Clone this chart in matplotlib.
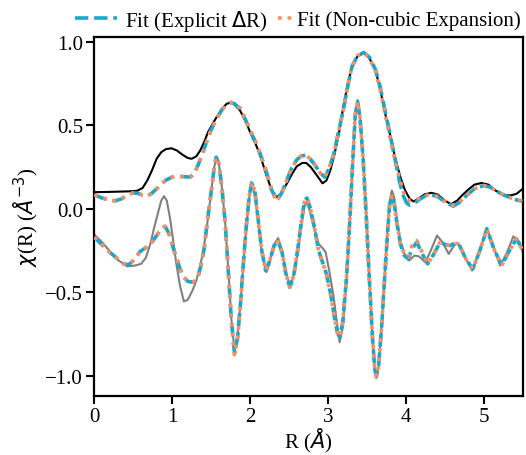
import matplotlib
matplotlib.use("Agg")
import matplotlib.pyplot as plt

plt.rcParams['font.family'] = ['Liberation Serif', 'DejaVu Serif']
plt.rcParams['mathtext.fontset'] = 'dejavusans'

# |chi(R)| data
mag_x = [0.00, 0.15, 0.30, 0.45, 0.55, 0.62, 0.68, 0.74, 0.80, 0.86, 0.92, 0.99, 1.06, 1.13, 1.20, 1.25,
         1.31, 1.36, 1.41, 1.46, 1.52, 1.57, 1.64, 1.70, 1.75, 1.80, 1.87, 1.94, 2.00, 2.07, 2.13, 2.21,
         2.28, 2.34, 2.40, 2.47, 2.54, 2.60, 2.67, 2.72, 2.78, 2.85, 2.93, 2.98, 3.03, 3.08, 3.14, 3.20,
         3.26, 3.31, 3.38, 3.46, 3.53, 3.61, 3.67, 3.73, 3.80, 3.86, 3.93, 3.99, 4.05, 4.10, 4.16, 4.24,
         4.33, 4.41, 4.50, 4.58, 4.66, 4.72, 4.80, 4.88, 4.97, 5.06, 5.15, 5.24, 5.34, 5.42, 5.50]
mag_y = [0.100, 0.101, 0.103, 0.105, 0.108, 0.125, 0.17, 0.23, 0.30, 0.34, 0.358, 0.363, 0.35, 0.325, 0.305, 0.30,
         0.315, 0.35, 0.40, 0.46, 0.51, 0.55, 0.60, 0.63, 0.636, 0.625, 0.59, 0.53, 0.46, 0.39, 0.32, 0.20,
         0.11, 0.07, 0.09, 0.15, 0.21, 0.255, 0.275, 0.275, 0.25, 0.205, 0.153, 0.17, 0.23, 0.32, 0.45, 0.62,
         0.76, 0.855, 0.915, 0.935, 0.905, 0.83, 0.72, 0.58, 0.44, 0.31, 0.19, 0.11, 0.06, 0.044, 0.06, 0.087,
         0.096, 0.085, 0.05, 0.028, 0.05, 0.08, 0.115, 0.145, 0.155, 0.145, 0.11, 0.085, 0.08, 0.09, 0.12]

# Re[chi(R)] data
re_x = [0.00, 0.10, 0.20, 0.30, 0.42, 0.52, 0.60, 0.66, 0.72, 0.77, 0.82, 0.86, 0.895, 0.93, 0.97, 1.01,
        1.05, 1.10, 1.15, 1.20, 1.26, 1.31, 1.36, 1.40, 1.45, 1.50, 1.54, 1.57, 1.60, 1.64, 1.68, 1.72,
        1.76, 1.80, 1.84, 1.88, 1.91, 1.95, 1.99, 2.02, 2.06, 2.10, 2.15, 2.21, 2.25, 2.30, 2.36, 2.41,
        2.46, 2.51, 2.56, 2.61, 2.66, 2.70, 2.73, 2.77, 2.83, 2.88, 2.93, 2.97, 3.02, 3.07, 3.12, 3.15,
        3.19, 3.24, 3.28, 3.32, 3.35, 3.38, 3.41, 3.45, 3.49, 3.53, 3.57, 3.60, 3.62, 3.65, 3.69, 3.72,
        3.76, 3.79, 3.82, 3.85, 3.89, 3.93, 3.98, 4.04, 4.11, 4.17, 4.25, 4.32, 4.40, 4.47, 4.55, 4.62,
        4.67, 4.76, 4.85, 4.95, 5.04, 5.12, 5.21, 5.30, 5.38, 5.46, 5.50]
re_y = [-0.155, -0.20, -0.255, -0.305, -0.345, -0.34, -0.33, -0.295, -0.21, -0.11, -0.02, 0.05, 0.076, 0.05, -0.05, -0.18,
        -0.32, -0.46, -0.555, -0.545, -0.49, -0.43, -0.34, -0.25, -0.09, 0.10, 0.25, 0.31, 0.27, 0.12, -0.08, -0.36,
        -0.66, -0.85, -0.76, -0.55, -0.36, -0.12, 0.07, 0.14, 0.09, -0.06, -0.26, -0.38, -0.33, -0.22, -0.175, -0.25,
        -0.38, -0.46, -0.40, -0.27, -0.10, 0.02, 0.04, -0.02, -0.13, -0.21, -0.235, -0.26, -0.38, -0.52, -0.70, -0.80,
        -0.71, -0.42, -0.08, 0.30, 0.57, 0.65, 0.56, 0.32, -0.02, -0.40, -0.75, -0.96, -1.015, -0.95, -0.70, -0.46,
        -0.16, 0.04, 0.11, 0.07, -0.08, -0.19, -0.27, -0.31, -0.28, -0.285, -0.32, -0.25, -0.16, -0.20, -0.27, -0.22,
        -0.205, -0.29, -0.37, -0.25, -0.115, -0.22, -0.34, -0.26, -0.165, -0.20, -0.26]

# Fit (Explicit dR): magnitude
fit1_mag_x = [0.00, 0.10, 0.20, 0.27, 0.35, 0.43, 0.50, 0.56, 0.62, 0.67, 0.73, 0.80, 0.86, 0.93, 1.00, 1.07,
              1.15, 1.23, 1.28, 1.33, 1.38, 1.44, 1.50, 1.57, 1.64, 1.70, 1.75, 1.80, 1.87, 1.94, 2.00, 2.07,
              2.13, 2.21, 2.28, 2.34, 2.40, 2.47, 2.53, 2.60, 2.66, 2.71, 2.77, 2.83, 2.90, 2.96, 3.01, 3.07,
              3.13, 3.20, 3.26, 3.31, 3.38, 3.46, 3.53, 3.61, 3.67, 3.73, 3.80, 3.86, 3.92, 3.97, 4.01, 4.05,
              4.10, 4.17, 4.25, 4.33, 4.42, 4.52, 4.61, 4.69, 4.78, 4.88, 5.00, 5.08, 5.17, 5.25, 5.35, 5.43, 5.50]
fit1_mag_y = [0.085, 0.065, 0.052, 0.048, 0.06, 0.085, 0.096, 0.093, 0.082, 0.076, 0.09, 0.12, 0.15, 0.175, 0.19, 0.195,
              0.193, 0.19, 0.21, 0.26, 0.32, 0.40, 0.475, 0.54, 0.595, 0.628, 0.638, 0.63, 0.60, 0.535, 0.47, 0.40,
              0.33, 0.22, 0.11, 0.054, 0.09, 0.17, 0.24, 0.295, 0.318, 0.32, 0.30, 0.265, 0.215, 0.19, 0.24, 0.32,
              0.45, 0.60, 0.75, 0.855, 0.918, 0.937, 0.91, 0.835, 0.73, 0.595, 0.44, 0.30, 0.16, 0.075, 0.035, 0.022,
              0.03, 0.055, 0.078, 0.084, 0.07, 0.035, 0.016, 0.04, 0.08, 0.12, 0.14, 0.13, 0.105, 0.084, 0.065, 0.052, 0.046]

# Fit (Non-cubic Expansion): magnitude
fit2_mag_x = fit1_mag_x
fit2_mag_y = [0.085, 0.066, 0.053, 0.049, 0.06, 0.085, 0.096, 0.093, 0.082, 0.077, 0.09, 0.12, 0.15, 0.175, 0.19, 0.195,
              0.193, 0.19, 0.21, 0.26, 0.32, 0.40, 0.475, 0.54, 0.595, 0.628, 0.638, 0.632, 0.605, 0.54, 0.475, 0.405,
              0.33, 0.22, 0.105, 0.045, 0.085, 0.17, 0.24, 0.295, 0.32, 0.325, 0.30, 0.265, 0.215, 0.19, 0.24, 0.32,
              0.45, 0.60, 0.75, 0.855, 0.918, 0.937, 0.905, 0.825, 0.715, 0.575, 0.42, 0.29, 0.18, 0.10, 0.06, 0.05,
              0.05, 0.062, 0.08, 0.086, 0.072, 0.038, 0.02, 0.04, 0.08, 0.12, 0.14, 0.13, 0.105, 0.084, 0.065, 0.052, 0.046]

# Fit (Explicit dR): real part
fit1_re_x = [0.00, 0.10, 0.20, 0.30, 0.38, 0.44, 0.50, 0.59, 0.67, 0.74, 0.80, 0.86, 0.91, 0.96, 1.01, 1.06,
             1.10, 1.15, 1.20, 1.27, 1.33, 1.37, 1.41, 1.45, 1.50, 1.54, 1.565, 1.60, 1.64, 1.68, 1.72, 1.76,
             1.80, 1.84, 1.88, 1.91, 1.95, 1.99, 2.02, 2.06, 2.10, 2.15, 2.20, 2.25, 2.31, 2.36, 2.41, 2.46,
             2.51, 2.56, 2.61, 2.66, 2.70, 2.73, 2.77, 2.83, 2.88, 2.93, 2.98, 3.03, 3.08, 3.12, 3.15, 3.19,
             3.24, 3.28, 3.32, 3.35, 3.38, 3.41, 3.45, 3.49, 3.53, 3.57, 3.60, 3.62, 3.65, 3.69, 3.72, 3.76,
             3.79, 3.82, 3.85, 3.89, 3.93, 3.98, 4.03, 4.08, 4.14, 4.20, 4.28, 4.36, 4.44, 4.51, 4.57, 4.63,
             4.68, 4.77, 4.86, 4.95, 5.04, 5.13, 5.23, 5.33, 5.42, 5.50]
fit1_re_y = [-0.17, -0.215, -0.26, -0.30, -0.33, -0.335, -0.31, -0.255, -0.23, -0.20, -0.16, -0.12, -0.105, -0.15, -0.23, -0.30,
             -0.36, -0.41, -0.435, -0.44, -0.41, -0.34, -0.24, -0.08, 0.10, 0.25, 0.31, 0.27, 0.12, -0.08, -0.37, -0.67,
             -0.865, -0.77, -0.55, -0.35, -0.11, 0.08, 0.155, 0.11, -0.05, -0.25, -0.37, -0.31, -0.22, -0.195, -0.26, -0.39,
             -0.47, -0.40, -0.25, -0.07, 0.05, 0.065, 0.01, -0.12, -0.25, -0.32, -0.39, -0.50, -0.64, -0.74, -0.77, -0.68,
             -0.40, -0.07, 0.30, 0.56, 0.645, 0.55, 0.31, -0.03, -0.41, -0.76, -0.96, -1.005, -0.94, -0.70, -0.47, -0.18,
             0.02, 0.075, 0.03, -0.10, -0.21, -0.28, -0.30, -0.24, -0.20, -0.26, -0.33, -0.27, -0.20, -0.215, -0.22, -0.205,
             -0.21, -0.30, -0.36, -0.25, -0.12, -0.24, -0.34, -0.25, -0.18, -0.25]

# Fit (Non-cubic Expansion): real part
fit2_re_x = fit1_re_x
fit2_re_y = [-0.17, -0.215, -0.26, -0.30, -0.33, -0.335, -0.31, -0.255, -0.23, -0.20, -0.16, -0.12, -0.105, -0.15, -0.23, -0.30,
             -0.36, -0.41, -0.435, -0.44, -0.41, -0.34, -0.24, -0.08, 0.10, 0.25, 0.31, 0.27, 0.12, -0.08, -0.37, -0.68,
             -0.875, -0.78, -0.55, -0.35, -0.11, 0.08, 0.16, 0.11, -0.05, -0.25, -0.37, -0.31, -0.22, -0.195, -0.26, -0.39,
             -0.47, -0.40, -0.25, -0.07, 0.05, 0.065, 0.01, -0.12, -0.25, -0.32, -0.39, -0.50, -0.64, -0.74, -0.77, -0.68,
             -0.40, -0.07, 0.30, 0.56, 0.645, 0.55, 0.31, -0.03, -0.41, -0.76, -0.96, -1.005, -0.94, -0.70, -0.47, -0.18,
             0.02, 0.075, 0.03, -0.10, -0.21, -0.27, -0.29, -0.22, -0.19, -0.25, -0.33, -0.27, -0.20, -0.215, -0.22, -0.205,
             -0.21, -0.30, -0.36, -0.25, -0.12, -0.24, -0.34, -0.25, -0.18, -0.25]

legend_labels = ['Fit (Explicit $\\Delta$R)', 'Fit (Non-cubic Expansion)']
x_ticks = [0, 1, 2, 3, 4, 5]
y_ticks = [-1.0, -0.5, 0.0, 0.5, 1.0]

CYAN = '#17a9c9'
ORANGE = '#fc8d62'
FS = 15

W, H = 526, 456
fig = plt.figure(figsize=(W / 100, H / 100), dpi=100)
ax = fig.add_axes([94.3 / W, (H - 396.7) / H, (522.7 - 94.3) / W, (396.7 - 38) / H])

ax.plot(mag_x, mag_y, color='black', lw=1.5, zorder=2)
ax.plot(re_x, re_y, color='gray', lw=1.5, zorder=2)
l1, = ax.plot(fit1_mag_x, fit1_mag_y, color=CYAN, lw=2.6, ls='--', zorder=3)
ax.plot(fit1_re_x, fit1_re_y, color=CYAN, lw=2.6, ls='--', zorder=3)
l2, = ax.plot(fit2_mag_x, fit2_mag_y, color=ORANGE, lw=2.6, ls=':', zorder=4)
ax.plot(fit2_re_x, fit2_re_y, color=ORANGE, lw=2.6, ls=':', zorder=4)

ax.set_xlim(0, 5.5)
ax.set_ylim(-1.12, 1.03)
ax.set_xticks(x_ticks)
ax.set_xticklabels([str(t) for t in x_ticks])
ax.set_yticks(y_ticks)
ax.set_yticklabels(['\u22121.0', '\u22120.5', '0.0', '0.5', '1.0'])
ax.tick_params(direction='out', length=6, width=1.5, labelsize=FS, pad=2)
for s in ax.spines.values():
    s.set_linewidth(1.6)

ax.set_xlabel('R ($\\AA$)', fontsize=FS, labelpad=0)
ax.set_ylabel('$\\chi$(R) ($\\AA^{-3}$)', fontsize=FS, labelpad=4)

em = FS * 100 / 72.0
leg_y = 1 - 21 / H
leg1 = fig.legend([l1], [legend_labels[0]], loc='center left', bbox_to_anchor=(75 / W, leg_y),
                  frameon=False, fontsize=FS, handlelength=42 / em, handletextpad=8 / em,
                  borderpad=0, borderaxespad=0)
leg2 = fig.legend([l2], [legend_labels[1]], loc='center left', bbox_to_anchor=(278 / W, leg_y),
                  frameon=False, fontsize=FS, handlelength=14 / em, handletextpad=5 / em,
                  borderpad=0, borderaxespad=0)

fig.savefig('out.png', dpi=100)
